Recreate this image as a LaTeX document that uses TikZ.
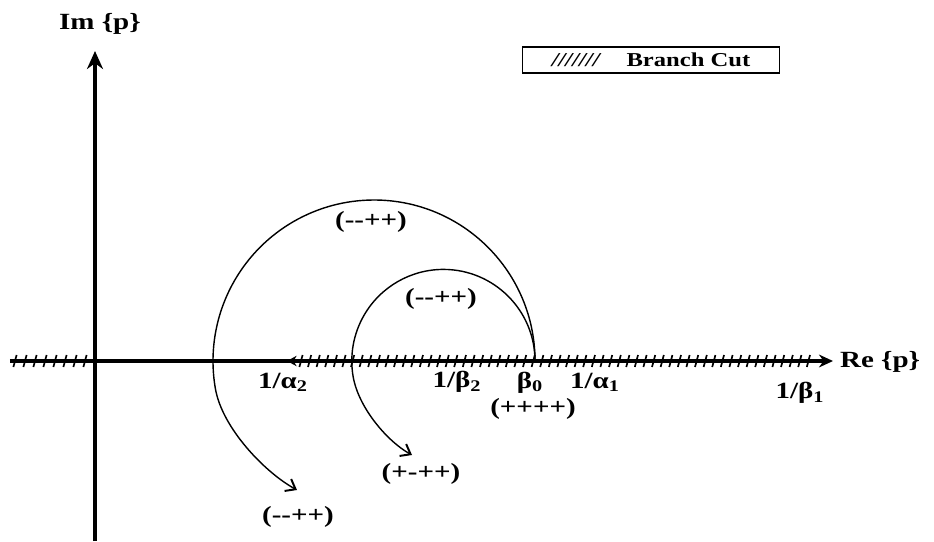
\documentclass[tikz,border=0pt]{standalone}
\usepackage{fontspec}
\setmainfont{Liberation Serif}
\usetikzlibrary{arrows.meta,calc,positioning}

\begin{document}
\begin{tikzpicture}[>=Stealth,
    lbl/.style={font=\bfseries\fontsize{16.5}{19}\selectfont,xscale=1.25,inner sep=0pt},
    axisLine/.style={line width=2.6pt},
    pathLine/.style={line width=1pt},
    hatchTick/.style={line width=1.2pt}]
  \path[use as bounding box] (-2.375,-4.5) rectangle (20.975,9.025);

  % axes
  \draw[axisLine,-{Stealth[length=4.5mm,width=4mm]}] (0,-4.5) -- (0,7.75);
  \draw[axisLine,-{Stealth[length=3.5mm,width=3.2mm]}] (-2.125,0) -- (18.45,0);
  \node[lbl] (imAx) at (0.125,8.425) {Im \{p\}};
  \node[lbl,anchor=west] (reAx) at (18.62,-0.025) {Re \{p\}};

  % branch cuts
  \foreach \x in {-2.0,-1.75,...,-0.2}
    \draw[hatchTick] (\x-0.04,-0.15) -- (\x+0.04,0.15);
  \foreach \x in {5.15,5.365,...,17.95}
    \draw[hatchTick] (\x-0.04,-0.15) -- (\x+0.04,0.15);
  \draw[line width=1.5pt,-{Stealth[length=2.4mm,width=2.6mm]}] (5.4,0) -- (4.8,0);

  % points on the real axis
  \node[lbl] (ia2) at (4.7,-0.53) {1/α\textsubscript{2}};
  \node[lbl] (ib2) at (9.05,-0.53) {1/β\textsubscript{2}};
  \node[lbl] (b0) at (10.875,-0.54) {β\textsubscript{0}};
  \node[lbl] (sP0) at (10.95,-1.2) {(++++)};
  \node[lbl] (ia1) at (12.5,-0.53) {1/α\textsubscript{1}};
  \node[lbl] (ib1) at (17.625,-0.8) {1/β\textsubscript{1}};

  % contours from p0
  \coordinate (p0) at (11,0);
  \coordinate (tipBig) at (5.05,-3.225);
  \coordinate (tipSmall) at (7.925,-2.35);
  \draw[pathLine,-{Straight Barb[length=2.2mm,width=3.4mm,line width=1.4pt]}] (p0) arc[start angle=0,end angle=190,radius=4.025]
    .. controls (3.185,-1.684) and (4.25,-2.785) .. (tipBig);
  \draw[pathLine,-{Straight Barb[length=2.2mm,width=3.4mm,line width=1.4pt]}] (p0) arc[start angle=0,end angle=190,radius=2.29]
    .. controls (6.594,-1.186) and (7.325,-2.02) .. (tipSmall);

  \node[lbl] (sBigTop) at (6.9,3.475) {(-{}-++)};
  \node[lbl] (sSmallTop) at (8.65,1.55) {(-{}-++)};
  \node[lbl] (sSmallBot) at (8.15,-2.825) {(+-++)};
  \node[lbl] (sBigBot) at (5.075,-3.9) {(-{}-++)};

  % legend
  \node[draw,line width=0.8pt,font=\bfseries\fontsize{14}{16}\selectfont,xscale=1.25,
        minimum width=5.14cm,minimum height=0.65cm,inner sep=1pt] (legend) at (13.9,7.525)
        {\textit{///////}\hspace{0.5cm}Branch Cut};
\end{tikzpicture}
\end{document}
